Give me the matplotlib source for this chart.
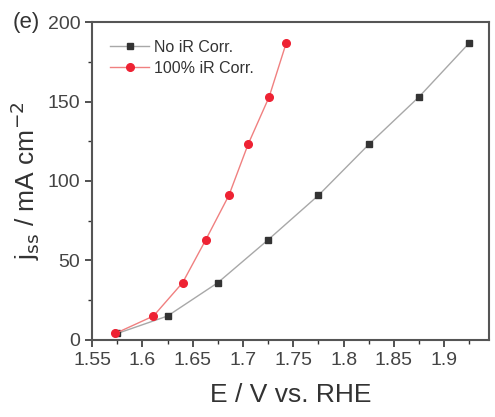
import matplotlib.pyplot as plt
from matplotlib.ticker import MultipleLocator

plt.rcParams['font.family'] = ['Liberation Sans', 'DejaVu Sans']

# current density levels (mA cm-2)
j_ss = [4, 15, 36, 63, 91, 123, 153, 187]
# potentials without / with iR correction (V vs. RHE)
e_no_ir = [1.575, 1.625, 1.675, 1.725, 1.775, 1.825, 1.875, 1.925]
e_ir = [1.573, 1.611, 1.640, 1.663, 1.686, 1.705, 1.726, 1.743]

fig = plt.figure(figsize=(4.95, 4.17), dpi=100)
ax = fig.add_axes([0.186, 0.185, 0.801, 0.762])

ax.plot(e_no_ir, j_ss, color='#a8a8a8', lw=1.0, marker='s', ms=5,
        mfc='#333333', mec='#333333', label='No iR Corr.')
ax.plot(e_ir, j_ss, color='#f08080', lw=1.0, marker='o', ms=5.5,
        mfc='#ee2233', mec='#ee2233', label='100% iR Corr.')

ax.set_xlim(1.55, 1.944)
ax.set_ylim(0, 200)
ax.xaxis.set_major_locator(MultipleLocator(0.05))
ax.xaxis.set_minor_locator(MultipleLocator(0.025))
ax.yaxis.set_major_locator(MultipleLocator(50))
ax.yaxis.set_minor_locator(MultipleLocator(25))
ax.set_xticks([1.55, 1.6, 1.65, 1.7, 1.75, 1.8, 1.85, 1.9])
ax.set_xticklabels(['1.55', '1.6', '1.65', '1.7', '1.75', '1.8', '1.85', '1.9'])

ax.tick_params(which='major', direction='out', length=5, width=1.2,
               labelsize=14, colors='#333333', labelcolor='#444444')
ax.tick_params(which='minor', direction='out', length=3, width=1.0,
               colors='#333333')
for s in ax.spines.values():
    s.set_linewidth(1.5)
    s.set_color('#555555')

ax.set_xlabel('E / V vs. RHE', fontsize=19, color='#333333', labelpad=10)
ax.set_ylabel(r'j$_{\mathrm{ss}}$ / mA cm$^{-2}$', fontsize=19, color='#333333',
              labelpad=4)

ax.legend(loc='upper left', bbox_to_anchor=(0.01, 0.99), frameon=False,
          fontsize=11.5, handlelength=2.4, labelspacing=0.4, handletextpad=0.3,
          labelcolor='#333333')

fig.text(0.025, 0.945, '(e)', fontsize=16, color='#333333', va='center')

fig.savefig('out.png', dpi=100)
